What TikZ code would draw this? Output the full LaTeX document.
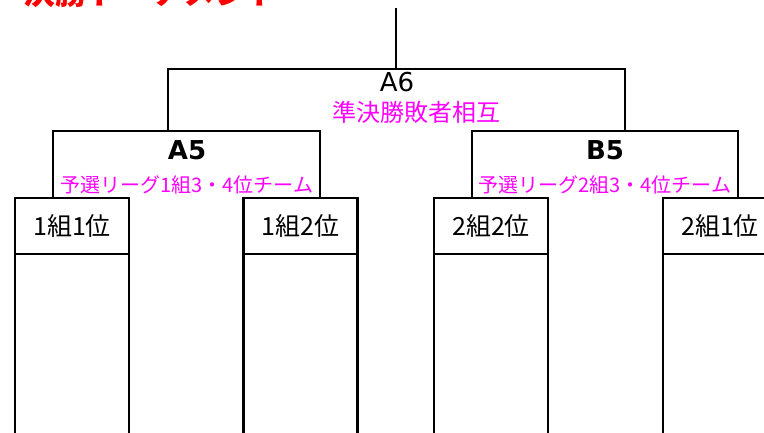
\documentclass[tikz,border=0pt]{standalone}
\usepackage{fontspec}
\newfontfamily\jp{Noto Sans CJK JP}
\newfontfamily\lat{DejaVu Sans}
\definecolor{mag}{RGB}{255,0,255}
\begin{document}
\begin{tikzpicture}[x=1pt,y=-1pt,line width=2.6pt,line join=miter,
  teambox/.style={draw,minimum width=114pt,minimum height=56pt,inner sep=0pt,outer sep=0pt,
    font=\jp\fontsize{25}{25}\selectfont},
  game/.style={inner sep=0pt,font=\lat\fontsize{26}{26}\selectfont},
  gamebold/.style={inner sep=0pt,font=\lat\bfseries\fontsize{26}{26}\selectfont},
  sub/.style={inner sep=0pt,text=mag,font=\jp\fontsize{24}{24}\selectfont},
  subsmall/.style={inner sep=0pt,text=mag,font=\jp\fontsize{20}{20}\selectfont}]
\useasboundingbox (0,0) rectangle (764,432);
\begin{scope}
\clip (0,0) rectangle (764,432);
\node[anchor=base west,inner sep=0pt,text=red,font=\jp\bfseries\fontsize{32}{32}\selectfont] (title) at (22,4) {決勝トーナメント};
% team boxes
\node[teambox] (t1) at (72,226) {1組1位};
\node[teambox] (t2) at (300.5,226) {1組2位};
\node[teambox] (t3) at (491,226) {2組2位};
\node[teambox] (t4) at (720,226) {2組1位};
\foreach \t in {t1,t2,t3,t4}{
  \draw (\t.south west) -- ++(0,200);
  \draw (\t.south east) -- ++(0,200);
}
% bracket legs
\coordinate (a5L) at (53,131);
\coordinate (a5R) at (320,131);
\coordinate (b5L) at (472,131);
\coordinate (b5R) at (738,131);
\coordinate (a6L) at (168,69);
\coordinate (a6R) at (625,69);
\coordinate (top) at (396,8);
\draw (t1.north -| a5L) -- (a5L) -- (a5R) -- (t2.north -| a5R);
\draw (t3.north -| b5L) -- (b5L) -- (b5R) -- (t4.north -| b5R);
\draw (a5L -| a6L) -- (a6L) -- (a6R) -- (b5L -| a6R);
\draw (top) -- (top |- a6L);
% labels
\node[game] (a6) at (397,82.5) {A6};
\node[sub] (a6s) at (416,112.5) {準決勝敗者相互};
\node[gamebold] (a5) at (187,150.5) {A5};
\node[subsmall] (a5s) at (187,184.5) {予選リーグ1組3・4位チーム};
\node[gamebold] (b5) at (605,150.5) {B5};
\node[subsmall] (b5s) at (605,184.5) {予選リーグ2組3・4位チーム};
\end{scope}
\end{tikzpicture}
\end{document}
